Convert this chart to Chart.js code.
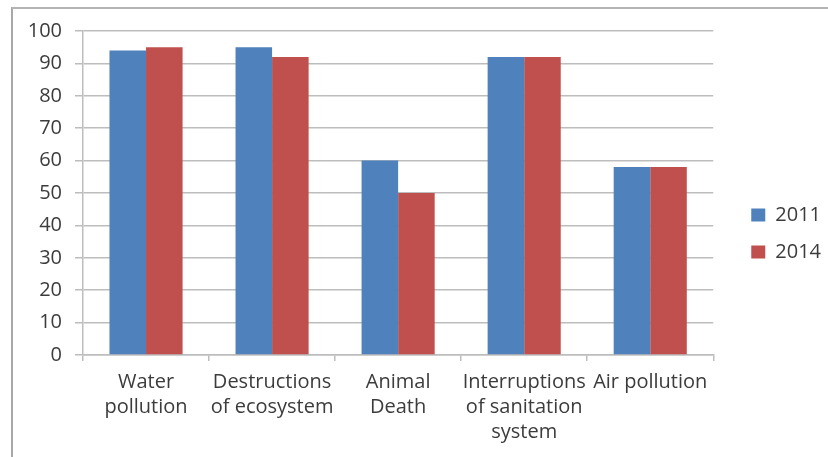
<!DOCTYPE html>
<html>
<head>
<meta charset="utf-8">
<script src="https://cdn.jsdelivr.net/npm/chart.js@4"></script>
<style>
  html, body { margin: 0; padding: 0; background: #ffffff; }
  #wrap { position: relative; width: 828px; height: 457px; overflow: hidden; }
  #frame {
    position: absolute; left: 11px; top: 7px; right: -4px; bottom: -4px;
    border-top: 2px solid #b4b4b4; border-left: 2px solid #a8a8a8;
  }
  canvas { position: absolute; left: 0; top: 0; }
</style>
</head>
<body>
<div id="wrap">
  <div id="frame"></div>
  <canvas id="chart" width="840" height="457"></canvas>
</div>
<script>
// Survey categories (multi-line axis labels)
const categories = [
  ["Water", "pollution"],
  ["Destructions", "of ecosystem"],
  ["Animal", "Death"],
  ["Interruptions", "of sanitation", "system"],
  "Air pollution"
];
const seriesNames = ["2011", "2014"];
const values2011 = [94, 95, 60, 92, 58];
const values2014 = [95, 92, 50, 92, 58];
const yTicks = { min: 0, max: 100, step: 10 };

const labelFont = { family: "'Open Sans', sans-serif", size: 20 };
const gridColor = "#bdbdbd";
const textColor = "#3c3c3c";

// invisible axis used only to reserve space in the layout
function spacer(position, size) {
  return {
    type: "linear", position, display: true,
    grid: { display: false }, border: { display: false }, ticks: { display: false },
    afterFit(s) { if (s.isHorizontal()) s.height = size; else s.width = size; }
  };
}

new Chart(document.getElementById("chart"), {
  type: "bar",
  data: {
    labels: categories,
    datasets: [
      { label: seriesNames[0], data: values2011, backgroundColor: "#4f81bd", borderWidth: 0 },
      { label: seriesNames[1], data: values2014, backgroundColor: "#c0504d", borderWidth: 0 }
    ]
  },
  options: {
    responsive: false,
    animation: false,
    devicePixelRatio: 1,
    layout: { padding: { left: 0, top: 10, right: 9, bottom: 0 } },
    datasets: { bar: { categoryPercentage: 0.58, barPercentage: 1.0 } },
    scales: {
      x: {
        grid: { offset: true, drawOnChartArea: false, color: gridColor, tickLength: 6, lineWidth: 1.5 },
        border: { color: gridColor, width: 1.5 },
        ticks: { font: { ...labelFont, lineHeight: 1.25 }, color: textColor, padding: 9, maxRotation: 0, autoSkip: false },
        afterFit(s) { s.height = 102; }
      },
      y: {
        min: yTicks.min, max: yTicks.max,
        grid: { color: gridColor, tickLength: 8, lineWidth: 1.5 },
        border: { color: gridColor, width: 1.5 },
        ticks: { stepSize: yTicks.step, font: labelFont, color: textColor, padding: 13 },
        afterFit(s) { s.width = 83; }
      },
      gapTop: spacer("top", 21),
      gapRight: spacer("right", 21)
    },
    plugins: {
      legend: {
        position: "right",
        align: "center",
        labels: { boxWidth: 14, boxHeight: 13, padding: 17, font: labelFont, color: textColor }
      },
      tooltip: { enabled: false }
    }
  }
});
</script>
</body>
</html>
